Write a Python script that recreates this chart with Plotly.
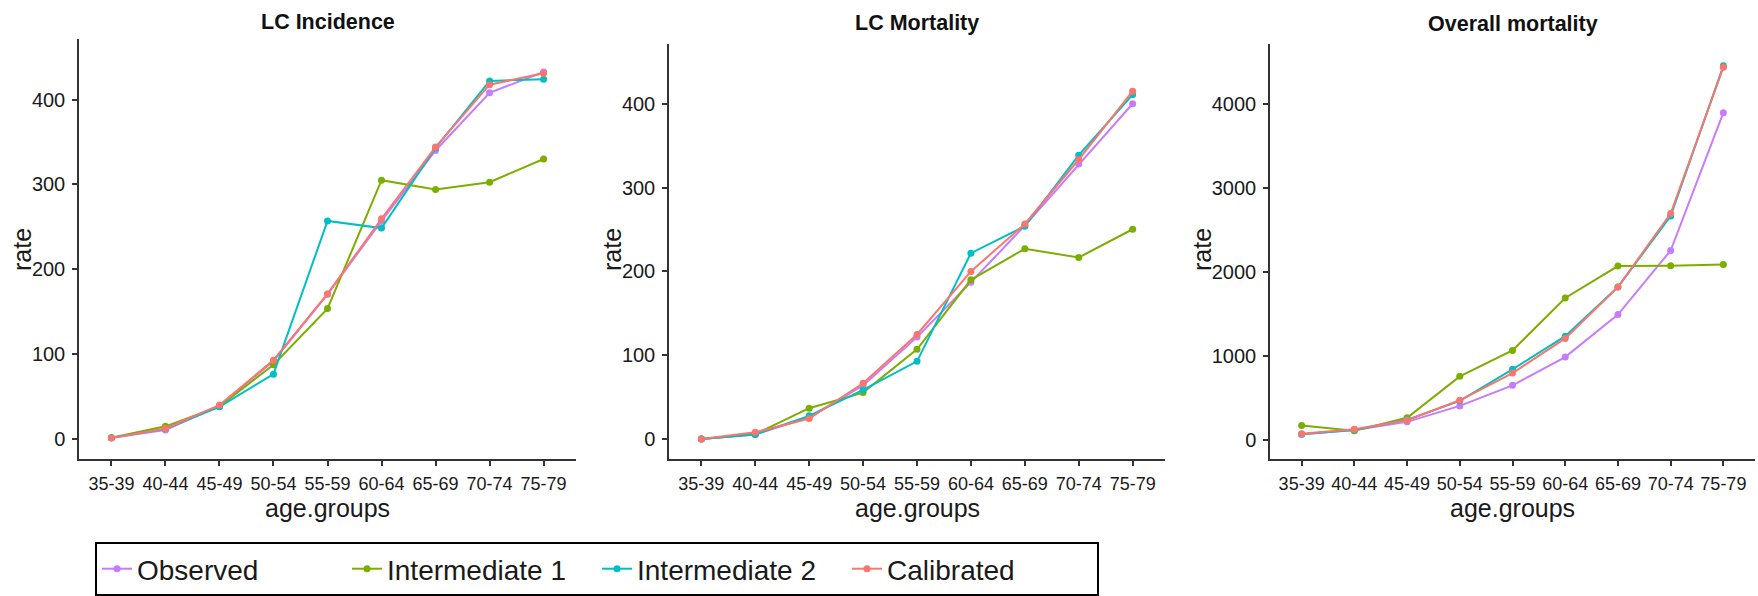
import plotly.graph_objects as go

W, H = 1758, 596

age_groups = ["35-39", "40-44", "45-49", "50-54", "55-59", "60-64", "65-69", "70-74", "75-79"]
series_names = ["Observed", "Intermediate 1", "Intermediate 2", "Calibrated"]
series_colors = ["#C77CFF", "#7CAE00", "#00BFC4", "#F8766D"]
panel_titles = ["LC Incidence", "LC Mortality", "Overall mortality"]

# LC Incidence
inc_observed = [1.5, 10.6, 39, 92, 170.6, 257, 340, 408, 432.5]
inc_inter1 = [1.5, 15, 38.4, 87.5, 153.7, 305, 294, 302.7, 330]
inc_inter2 = [1.5, 12, 38, 76.5, 257, 248.6, 343, 422, 424]
inc_calibrated = [1.2, 12.5, 40, 93, 171, 259.6, 344, 417.6, 431]

# LC Mortality
mort_observed = [0, 5.5, 26, 64, 121.6, 187, 254.7, 328, 400]
mort_inter1 = [0, 6, 36.8, 55.4, 107, 190, 227, 216.6, 250.3]
mort_inter2 = [0, 5.5, 27.7, 58.6, 92.7, 221.8, 254, 338.6, 411]
mort_calibrated = [0, 8, 24.5, 66.5, 124.8, 200, 256.6, 333.5, 415]

# Overall mortality
all_observed = [67, 115, 213, 403, 648, 984, 1490, 2253, 3893]
all_inter1 = [170, 107, 261, 755, 1063, 1688, 2067, 2071, 2087]
all_inter2 = [67, 115, 237, 462, 838, 1233, 1818, 2664, 4451]
all_calibrated = [71, 126, 233, 470, 794, 1206, 1818, 2692, 4435]

panels = [
    [inc_observed, inc_inter1, inc_inter2, inc_calibrated],
    [mort_observed, mort_inter1, mort_inter2, mort_calibrated],
    [all_observed, all_inter1, all_inter2, all_calibrated],
]
y_ticks = [[0, 100, 200, 300, 400], [0, 100, 200, 300, 400], [0, 1000, 2000, 3000, 4000]]
y_ranges = [[-23.5, 471.4], [-23.8, 471.3], [-229, 4711]]

# layout geometry (pixels)
x_px = [(79, 576), (669, 1165), (1270, 1755)]
y_px = [(39, 459), (44, 459), (44, 459)]
rate_x = [22, 612, 1202]
title_y = [22, 23, 24]

FONT = "Liberation Sans, Arial, sans-serif"
fig = go.Figure()

for p, data in enumerate(panels):
    xa = "x" if p == 0 else f"x{p+1}"
    ya = "y" if p == 0 else f"y{p+1}"
    for s, vals in enumerate(data):
        fig.add_trace(go.Scatter(
            x=age_groups, y=vals, mode="lines+markers",
            name=series_names[s],
            line=dict(color=series_colors[s], width=2),
            marker=dict(color=series_colors[s], size=7),
            showlegend=(p == 0), legendrank=s + 1,
            xaxis=xa, yaxis=ya,
        ))

layout = dict(
    width=W, height=H,
    margin=dict(l=0, r=0, t=0, b=0),
    paper_bgcolor="white", plot_bgcolor="white",
    font=dict(family=FONT, color="#1a1a1a"),
    showlegend=True,
    legend=dict(
        orientation="h", x=95 / W, xanchor="left", y=1 - 542 / H, yanchor="top",
        bordercolor="black", borderwidth=2, bgcolor="white",
        font=dict(size=28, family=FONT, color="#1a1a1a"),
        entrywidth=205, entrywidthmode="pixels", traceorder="normal",
    ),
)
annotations = []
for p in range(3):
    sfx = "" if p == 0 else str(p + 1)
    x0, x1 = x_px[p]
    t, b = y_px[p]
    layout["xaxis" + sfx] = dict(
        domain=[x0 / W, x1 / W], anchor="y" + sfx,
        type="category", range=[-0.6, 8.6], tickangle=0,
        showline=True, linecolor="#333333", linewidth=1.5,
        ticks="outside", ticklen=5, tickwidth=1.5, tickcolor="#333333",
        tickfont=dict(size=18, color="#1a1a1a"), showgrid=False, zeroline=False,
        ticklabelstandoff=3,
    )
    layout["yaxis" + sfx] = dict(
        domain=[1 - b / H, 1 - t / H], anchor="x" + sfx,
        range=y_ranges[p], tickvals=y_ticks[p],
        showline=True, linecolor="#333333", linewidth=1.5,
        ticks="outside", ticklen=5, tickwidth=1.5, tickcolor="#333333",
        tickfont=dict(size=20, color="#1a1a1a"), showgrid=False, zeroline=False,
        ticklabelstandoff=3,
    )
    cx = (x0 + x1) / 2 / W
    annotations.append(dict(text="<b>" + panel_titles[p] + "</b>", x=cx, y=1 - title_y[p] / H,
                            xref="paper", yref="paper", xanchor="center", yanchor="middle",
                            showarrow=False, font=dict(size=21.5, color="#111111")))
    annotations.append(dict(text="age.groups", x=cx, y=1 - 508 / H,
                            xref="paper", yref="paper", xanchor="center", yanchor="middle",
                            showarrow=False, font=dict(size=25, color="#1a1a1a")))
    annotations.append(dict(text="rate", x=rate_x[p] / W, y=1 - 250 / H, textangle=-90,
                            xref="paper", yref="paper", xanchor="center", yanchor="middle",
                            showarrow=False, font=dict(size=25, color="#1a1a1a")))
layout["annotations"] = annotations
fig.update_layout(**layout)
fig.write_html("out.html")
